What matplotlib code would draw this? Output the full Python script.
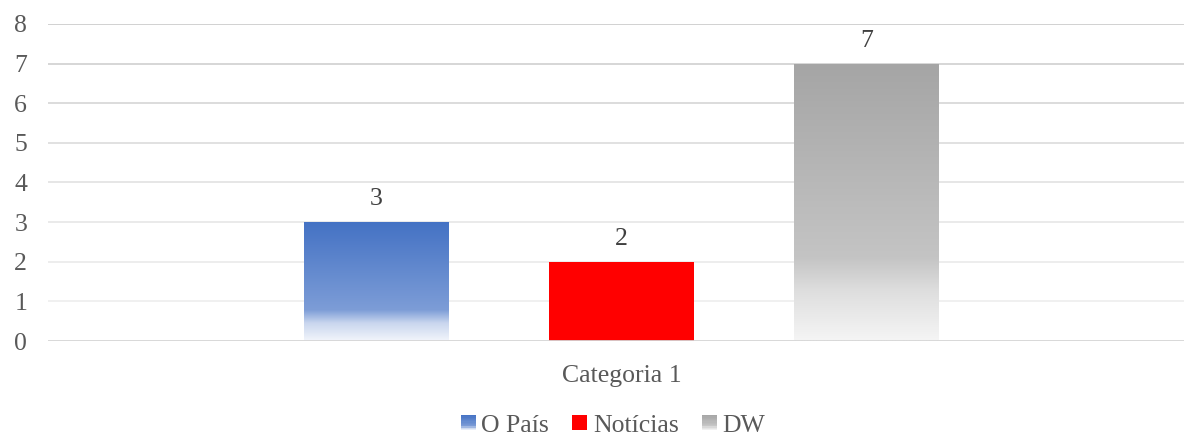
import matplotlib
matplotlib.use("Agg")
import matplotlib.pyplot as plt
import numpy as np
from matplotlib.colors import LinearSegmentedColormap
from matplotlib.patches import Rectangle
from matplotlib.legend_handler import HandlerBase

categories = ["Categoria 1"]
series = ["O País", "Notícias", "DW"]
values = [3, 2, 7]
yticks = [0, 1, 2, 3, 4, 5, 6, 7, 8]

plt.rcParams['font.family'] = ['Liberation Serif', 'DejaVu Serif']

grad_stops = {
    "O País": [(0.0, "#4472C4"), (0.74, "#7d9dd7"), (0.85, "#c9d6ee"), (1.0, "#f2f5fb")],
    "Notícias": [(0.0, "#FF0000"), (1.0, "#FF0000")],
    "DW": [(0.0, "#a5a5a5"), (0.70, "#c4c4c4"), (0.82, "#dedede"), (1.0, "#f5f5f5")],
}

def cmap_for(name):
    return LinearSegmentedColormap.from_list(name, grad_stops[name])

fig = plt.figure(figsize=(11.84, 4.36), dpi=100)
ax = fig.add_axes([48/1184, 1-341/436, (1184-48)/1184, (341-24)/436])

width = 145/245
positions = [-1, 0, 1]
label_color = "#595959"

for pos, name, v in zip(positions, series, values):
    x0 = pos - width/2
    cm = cmap_for(name)
    grad = np.linspace(0, 1, 256).reshape(-1, 1)
    im = ax.imshow(grad, cmap=cm, aspect='auto', extent=(x0, x0+width, 0, v),
                   origin='upper', zorder=2, interpolation='bilinear')
    rect = Rectangle((x0, 0), width, v, facecolor='none', edgecolor='none', zorder=2)
    ax.add_patch(rect)
    im.set_clip_path(rect)
    ax.text(pos, v + 0.3, str(v), ha='center', va='bottom', fontsize=18.5, color="#404040")

ax.set_xlim(-573.5/245, 562.5/245)
ax.set_ylim(0, 8)

gcols = ["#d6d6d6", "#ededed", "#eaeaea", "#e6e6e6", "#e1e1e1", "#dbdbdb", "#d5d5d5", "#cfcfcf", "#cacaca"]
for t, c in zip(yticks, gcols):
    ax.axhline(t, color=c, lw=1.3 if t == 0 else 1.2, zorder=1 if t else 3)

for s in ax.spines.values():
    s.set_visible(False)
ax.set_yticks(yticks)
ax.set_yticklabels([str(t) for t in yticks])
ax.tick_params(axis='y', length=0, pad=15, labelsize=18.5, labelcolor=label_color)
ax.set_xticks([0])
ax.set_xticklabels(categories)
ax.tick_params(axis='x', length=0, pad=17, labelsize=18.5, labelcolor=label_color)


class GradHandler(HandlerBase):
    def __init__(self, name):
        super().__init__()
        self.name = name

    def create_artists(self, legend, orig_handle, xdescent, ydescent, width, height, fontsize, trans):
        cm = cmap_for(self.name)
        n = 12
        size = min(width, height)
        x0 = -xdescent + (width - size)
        y0 = -ydescent + (height - size) / 2
        arts = []
        for i in range(n):
            f = (i + 0.5) / n
            r = Rectangle((x0, y0 + size * (1 - (i + 1) / n)), size, size / n + 0.3,
                          facecolor=cm(f), edgecolor='none', transform=trans)
            arts.append(r)
        return arts


handles = [Rectangle((0, 0), 1, 1) for _ in series]
hmap = {h: GradHandler(n) for h, n in zip(handles, series)}
leg = fig.legend(handles, series, handler_map=hmap, loc='center', bbox_to_anchor=(613/1184, 1-426/436),
                 ncol=3, frameon=False, fontsize=18.5, handlelength=0.58, handleheight=0.58,
                 handletextpad=0.22, columnspacing=0.9, borderpad=0)
for t in leg.get_texts():
    t.set_color(label_color)

fig.savefig("out.png", dpi=100, facecolor='white')
